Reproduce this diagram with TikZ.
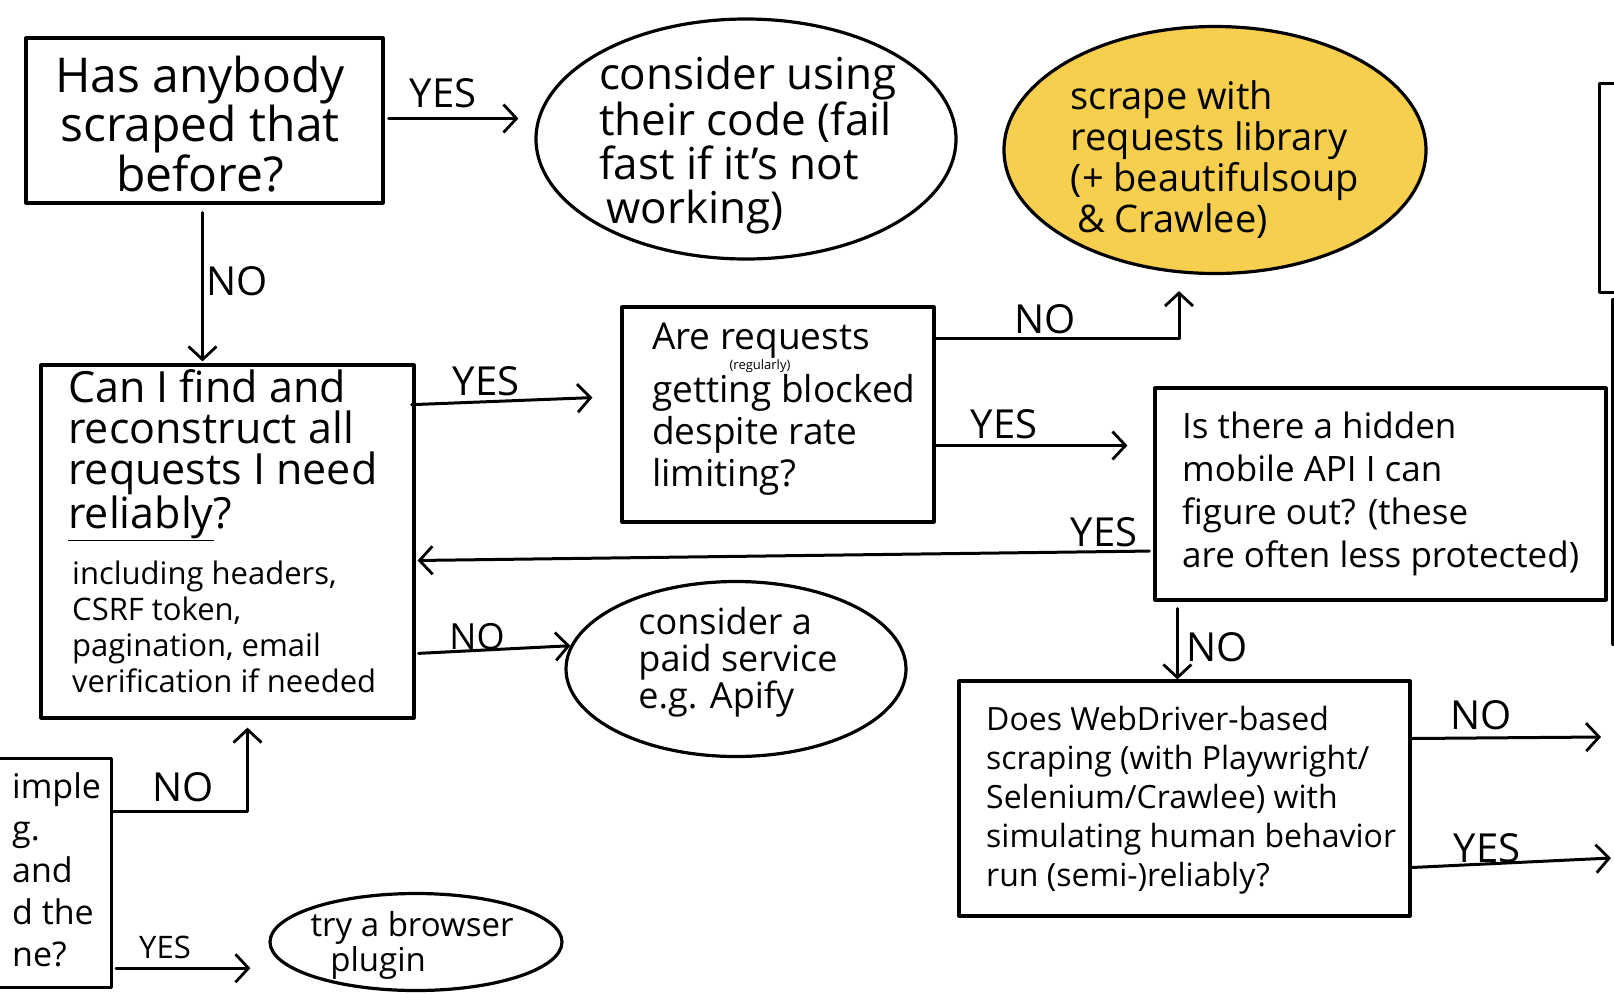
\documentclass[tikz,border=0pt]{standalone}
\usepackage{fontspec}
\setmainfont{Open Sans}
\usetikzlibrary{shapes.geometric,arrows.meta,calc}
\definecolor{sun}{HTML}{F7CF4F}
\newcommand{\fsz}[2]{\fontsize{#1}{#2}\selectfont}
\begin{document}
\begin{tikzpicture}[x=1pt,y=-1pt,
  ink/.style={line width=3.2pt, line join=round, line cap=round},
  qbox/.style={ink, draw, rectangle, inner sep=0pt},
  bubble/.style={ink, draw, ellipse, inner sep=0pt},
  arr/.style={ink, line width=3pt, -{Straight Barb[length=13pt,width=28pt,line width=2.8pt]}},
  txt/.style={inner sep=0pt, align=left},
  lab/.style={font=\fsz{40}{40}, inner sep=0pt},
  slab/.style={font=\fsz{31}{31}, inner sep=0pt},
]
\useasboundingbox (0,0) rectangle (1614,997);
\clip (0,0) rectangle (1614,997);
\fill[white] (0,0) rectangle (1614,997);

% ---- shapes ----
\node[qbox, minimum width=357pt, minimum height=165pt] (has) at (204.5,120.5) {};
\node[bubble, minimum width=420pt, minimum height=240pt] (reuse) at (746,139) {};
\node[bubble, fill=sun, minimum width=422pt, minimum height=247pt] (requests) at (1215,150) {};
\node[qbox, minimum width=373pt, minimum height=353pt] (find) at (227.5,541.5) {};
\node[qbox, minimum width=312pt, minimum height=215pt] (blocked) at (778,414.5) {};
\node[qbox, minimum width=451pt, minimum height=212pt] (mobile) at (1380.5,494) {};
\node[bubble, minimum width=340pt, minimum height=175pt] (paid) at (736,669) {};
\node[qbox, minimum width=451pt, minimum height=235pt] (webdriver) at (1184.5,798.5) {};
\node[qbox, anchor=north east, minimum width=363pt, minimum height=229pt] (simple) at (113,757) {};
\node[bubble, minimum width=292pt, minimum height=97pt] (plugin) at (416,942) {};
\node[qbox, anchor=north west, minimum width=400pt, minimum height=209pt] (nextA) at (1598,82) {};
\node[qbox, anchor=north west, minimum width=400pt, minimum height=345pt] (nextB) at (1611,298) {};

% ---- texts ----
\node[txt, align=center, font=\fsz{48}{45}] (thas) at (200,124) {Has anybody\\scraped that\\before?};
\node[txt, font=\fsz{44}{44}] (treuse) at (748,145) {consider using\\their code (fail\\fast if it's not\\\,working)};
\node[txt, font=\fsz{38}{41}] (trequests) at (1215,160) {scrape with\\requests library\\(+ beautifulsoup\\\,\& Crawlee)};
\node[txt, anchor=west, font=\fsz{43}{41}] (tfind) at (68,455) {Can I find and\\reconstruct all\\requests I need\\\underline{reliably}?};
\node[txt, anchor=west, font=\fsz{31}{36}] (tfindmore) at (72,627) {including headers,\\CSRF token,\\pagination, email\\verification if needed};
% question box: first line, small insertion, remaining lines
\node[txt, anchor=base west, font=\fsz{37}{37}] (tblockedA) at (652,349) {Are requests};
\node[txt, font=\fsz{13}{13}] (tregular) at (760,366) {(regularly)};
\node[txt, anchor=north west, font=\fsz{37}{42}] (tblockedB) at (652,374) {getting blocked\\despite rate\\limiting?};
\node[txt, anchor=west, font=\fsz{35}{43}] (tmobile) at (1182,494) {Is there a hidden\\mobile API I can\\figure out? (these\\are often less protected)};
\node[txt, font=\fsz{36}{37}] (tpaid) at (738,662) {consider a\\paid service\\e.g. Apify};
\node[txt, anchor=west, font=\fsz{32}{39}] (tweb) at (986,800) {Does WebDriver-based\\scraping (with Playwright/\\Selenium/Crawlee) with\\simulating human behavior\\run (semi-)reliably?};
\node[txt, font=\fsz{33}{35}] (tplugin) at (412,945) {try a browser\\\hspace{0.6em}plugin};
\node[txt, anchor=west, font=\fsz{34}{42}] (tsimple) at (12,870) {imple\\g.\\and\\d the\\ne?};

% ---- connectors ----
\coordinate (outno) at (1601,737);
\coordinate (outyes) at (1611,858);
\draw[arr, shorten <=4pt, shorten >=16pt] ([yshift=2pt]has.east) -- ([yshift=2pt]has.east -| reuse.west);
\draw[arr, shorten <=8pt, shorten >=2pt] ([xshift=-2pt]has.south) -- ([xshift=-2pt]has.south |- find.north);
\draw[arr, shorten <=-4pt, shorten >=28pt] ([yshift=137pt]find.east) -- ([yshift=18pt]blocked.west);
\draw[arr, shorten >=16pt] ([yshift=-33pt]blocked.north east) -| ([xshift=-36pt]requests.south);
\draw[arr, shorten >=26pt] ([yshift=-31pt]blocked.east) -- ([yshift=-31pt]blocked.east -| mobile.west);
\draw[arr, shorten <=4pt, shorten >=2pt] ([yshift=-57pt]mobile.west) -- ([yshift=-19pt]find.east);
\draw[arr, shorten <=7pt] ([xshift=24pt]mobile.south west) -- ([xshift=24pt]mobile.south west |- webdriver.north);
\draw[arr, shorten <=3pt] ([yshift=-112pt]find.east) -- (paid.172);
\draw[arr] ([yshift=60pt]webdriver.east) -- (outno);
\draw[arr] ([yshift=-69pt]webdriver.east) -- (outyes);
\draw[arr, shorten >=8pt] ([yshift=-54pt]simple.north east) -| ([xshift=20pt]find.south);
\draw[arr, shorten <=3pt, shorten >=18pt] ([yshift=21pt]simple.south east) -- ([yshift=21pt]simple.south east -| plugin.west);

% ---- edge labels ----
\node[lab] (l1) at (443,93) {YES};
\node[lab] (l2) at (237,281) {NO};
\node[lab] (l3) at (486,381) {YES};
\node[lab] (l4) at (1045,319) {NO};
\node[lab] (l5) at (1004,424) {YES};
\node[lab] (l6) at (1104,532) {YES};
\node[lab] (l7) at (1217,647) {NO};
\node[lab, font=\fsz{36}{36}] (l8) at (477,637) {NO};
\node[lab] (l9) at (1481,715) {NO};
\node[lab] (l10) at (1487,848) {YES};
\node[lab] (l11) at (183,787) {NO};
\node[slab] (l12) at (165,947) {YES};
\end{tikzpicture}
\end{document}
